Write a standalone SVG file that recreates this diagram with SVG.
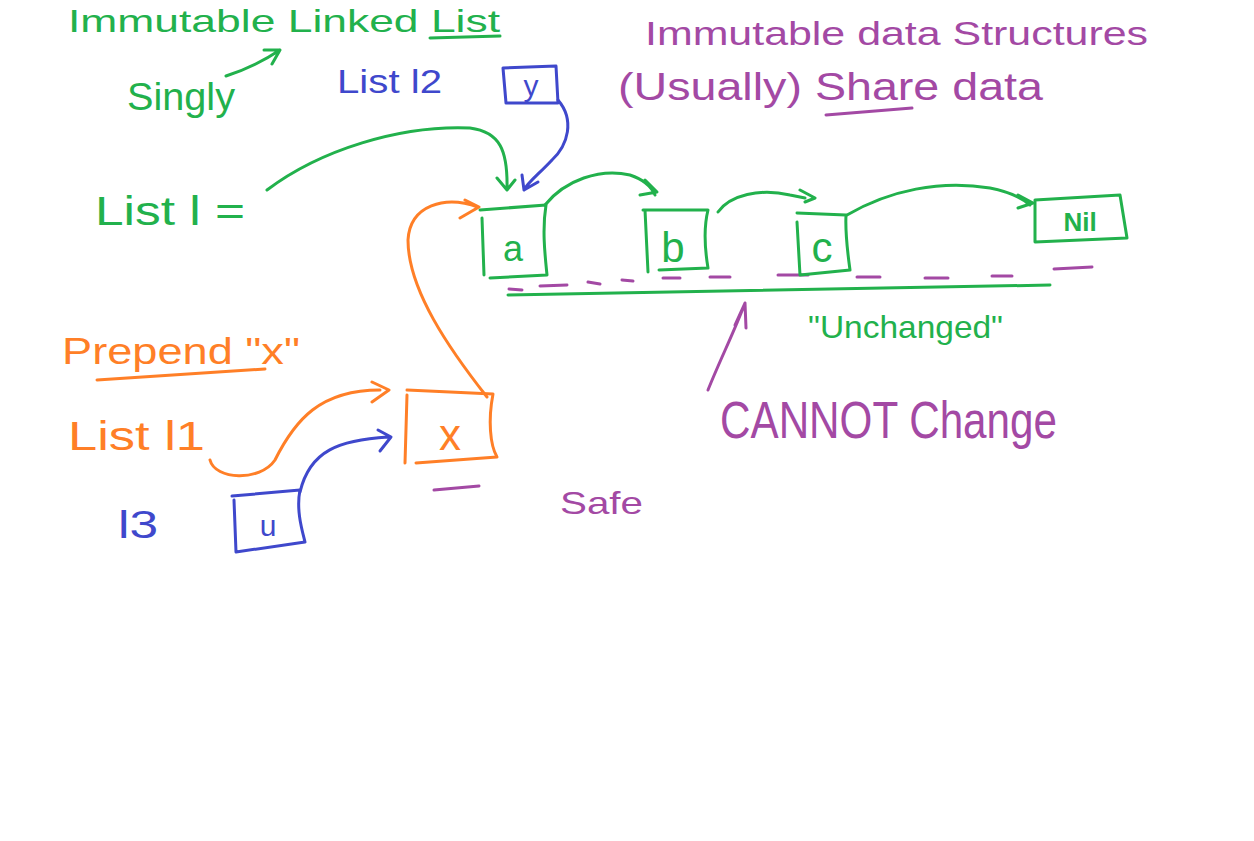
<svg xmlns="http://www.w3.org/2000/svg" width="1254" height="841" viewBox="0 0 1254 841">
<style>
  .t { font-family: "Liberation Sans", Arial, sans-serif; }
  .g { fill: #22b14c; } .p { fill: #a349a4; } .b { fill: #3f48cc; } .o { fill: #ff7f27; }
  .sg { stroke: #22b14c; } .sp { stroke: #a349a4; } .sb { stroke: #3f48cc; } .so { stroke: #ff7f27; }
  .ln { fill: none; stroke-width: 3; stroke-linecap: round; stroke-linejoin: round; }
  .c { text-anchor: middle; }
</style>
<rect width="1254" height="841" fill="#ffffff"/>

<g id="labels">
  <text class="t g" x="68" y="32" font-size="32" textLength="432" lengthAdjust="spacingAndGlyphs">Immutable Linked List</text>
  <path class="ln sg" d="M430,38 L500,36"/>
  <text class="t g" x="127" y="110" font-size="38" textLength="108" lengthAdjust="spacingAndGlyphs">Singly</text>
  <path class="ln sg" d="M226,76 C245,70 262,62 280,50 M264,50 L280,50 L272,64"/>
  <text class="t b" x="337" y="93" font-size="34" textLength="105" lengthAdjust="spacingAndGlyphs">List l2</text>
  <text class="t p" x="645" y="45" font-size="34" textLength="503" lengthAdjust="spacingAndGlyphs">Immutable data Structures</text>
  <text class="t p" x="618" y="100" font-size="38" textLength="425" lengthAdjust="spacingAndGlyphs">(Usually) Share data</text>
  <path class="ln sp" d="M826,115 L912,108"/>
  <text class="t g" x="95" y="225" font-size="40" textLength="150" lengthAdjust="spacingAndGlyphs">List l =</text>
  <text class="t o" x="62" y="364" font-size="36" textLength="238" lengthAdjust="spacingAndGlyphs">Prepend "x"</text>
  <path class="ln so" d="M97,380 L265,369"/>
  <text class="t o" x="68" y="450" font-size="40" textLength="137" lengthAdjust="spacingAndGlyphs">List l1</text>
  <text class="t b" x="118" y="538" font-size="38" textLength="40" lengthAdjust="spacingAndGlyphs">l3</text>
  <text class="t p" x="560" y="514" font-size="32" textLength="83" lengthAdjust="spacingAndGlyphs">Safe</text>
  <path class="ln sp" d="M434,490 L479,486"/>
  <text class="t g" x="808" y="338" font-size="32" textLength="195" lengthAdjust="spacingAndGlyphs">"Unchanged"</text>
  <text class="t p" x="720" y="438" font-size="52" textLength="337" lengthAdjust="spacingAndGlyphs">CANNOT Change</text>
  <g class="ln sp">
    <path d="M509,289 L522,290 M540,286 L567,285 M588,282 L600,284 M622,280 L633,281 M663,278 L680,278 M710,277 L730,277 M778,275 L808,275 M857,277 L880,277 M925,278 L948,278 M992,276 L1012,276 M1054,269 L1092,267"/>
  </g>
  <path class="ln sg" d="M508,295 L1050,285"/>
</g>

<g id="connectors" class="ln">
  <!-- l -> a -->
  <path class="sg" d="M267,190 C320,150 400,125 470,128 C500,132 508,150 507,190 M497,178 L507,190 L515,180"/>
  <!-- l2/y -> a -->
  <path class="sb" d="M558,100 C575,120 568,145 552,160 C538,175 528,182 524,190 M522,175 L524,190 L538,182"/>
  <!-- a -> b -->
  <path class="sg" d="M545,205 C565,180 600,168 630,175 C645,180 652,188 655,195 M645,180 L657,192 L640,195"/>
  <!-- b -> c -->
  <path class="sg" d="M718,212 C730,195 760,188 790,195 L805,198 M800,190 L815,198 L805,202"/>
  <!-- c -> Nil -->
  <path class="sg" d="M847,215 C890,190 940,180 990,188 C1010,192 1022,198 1030,205 M1018,195 L1033,203 L1018,208"/>
  <!-- x -> a (prepend) -->
  <path class="so" d="M487,397 C450,350 408,290 408,240 C410,205 445,195 478,207 M465,200 L479,207 L460,218"/>
  <!-- l1 -> x -->
  <path class="so" d="M210,460 C215,480 260,482 275,460 C295,420 320,390 380,390 M372,382 L389,390 L372,402"/>
  <!-- u -> x -->
  <path class="sb" d="M300,492 C310,450 340,440 388,437 M378,430 L391,437 L380,451"/>
  <!-- CANNOT Change arrow -->
  <path class="sp" d="M708,390 C720,360 735,330 745,303 M735,325 L745,303 L746,328"/>
</g>

<g id="node-y">
  <path class="ln sb" d="M503,68 L556,66 L558,103 L506,103 Z"/>
  <text class="t b c" x="531" y="96" font-size="30">y</text>
</g>
<g id="node-a">
  <path class="ln sg" d="M480,210 L546,205 C542,230 545,255 547,275 L490,278 M482,218 L484,275"/>
  <text class="t g c" x="513" y="261" font-size="36">a</text>
</g>
<g id="node-b">
  <path class="ln sg" d="M643,210 L708,210 C703,230 705,250 708,268 L659,270 M645,210 L648,272"/>
  <text class="t g c" x="673" y="262" font-size="42">b</text>
</g>
<g id="node-c">
  <path class="ln sg" d="M797,213 L846,215 C845,235 848,255 850,270 L800,275 L797,222"/>
  <text class="t g c" x="822" y="262" font-size="42">c</text>
</g>
<g id="node-nil">
  <path class="ln sg" d="M1035,200 L1120,195 L1127,238 L1035,242 Z"/>
  <text class="t g c" x="1080" y="231" font-size="26" font-weight="bold">Nil</text>
</g>
<g id="node-x">
  <path class="ln so" d="M407,390 L493,394 C488,420 490,445 497,457 L416,463 M407,395 L405,463"/>
  <text class="t o c" x="450" y="450" font-size="44">x</text>
</g>
<g id="node-u">
  <path class="ln sb" d="M232,496 L300,490 C296,510 302,530 305,542 L236,552 L234,500"/>
  <text class="t b c" x="268" y="536" font-size="30">u</text>
</g>
</svg>
